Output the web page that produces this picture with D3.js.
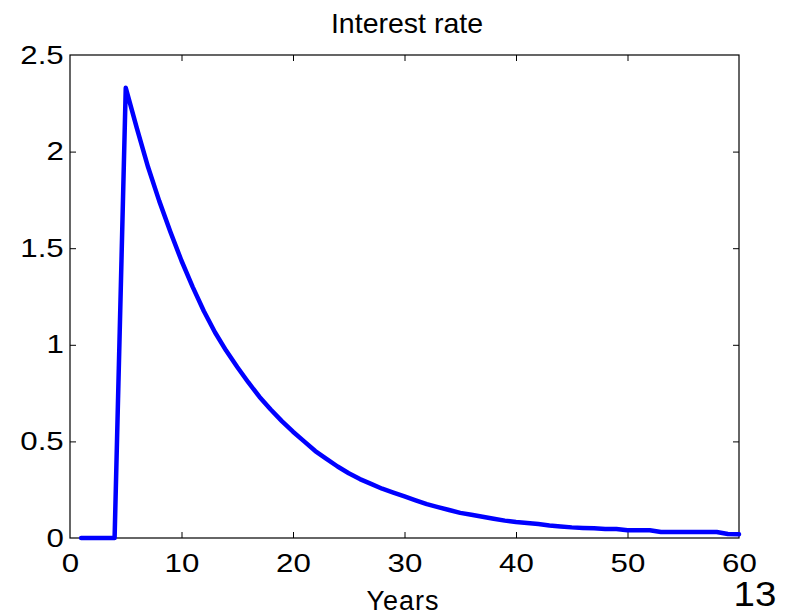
<!DOCTYPE html>
<html>
<head>
<meta charset="utf-8">
<script src="https://cdn.jsdelivr.net/npm/d3@7"></script>
<style>
  html, body { margin: 0; padding: 0; background: #fff; }
  svg { display: block; }
  text { font-family: "Liberation Sans", Arial, sans-serif; fill: #000; }
</style>
</head>
<body>
<svg id="chart" width="787" height="616"></svg>
<script>
// Impulse response of the interest rate, one value per year
const years = d3.range(1, 61);
const rate = [
  0, 0, 0, 0, 2.33, 2.12, 1.92, 1.745, 1.585, 1.435,
  1.30, 1.175, 1.065, 0.97, 0.885, 0.805, 0.73, 0.665, 0.605, 0.55,
  0.50, 0.45, 0.41, 0.37, 0.335, 0.305, 0.28, 0.255, 0.235, 0.215,
  0.195, 0.175, 0.16, 0.145, 0.13, 0.12, 0.11, 0.10, 0.09, 0.083,
  0.078, 0.072, 0.065, 0.06, 0.055, 0.052, 0.05, 0.047, 0.047, 0.04,
  0.04, 0.04, 0.031, 0.031, 0.031, 0.031, 0.031, 0.031, 0.021, 0.02
];
const xTicks = [0, 10, 20, 30, 40, 50, 60];
const yTicks = [0, 0.5, 1, 1.5, 2, 2.5];
const yTickLabels = ["0", "0.5", "1", "1.5", "2", "2.5"];

const svg = d3.select("#chart");
const plot = { left: 70, right: 739, top: 55, bottom: 538 };

const x = d3.scaleLinear().domain([0, 60]).range([plot.left, plot.right]);
const y = d3.scaleLinear().domain([0, 2.5]).range([plot.bottom, plot.top]);

const tickLen = 6;
const tickFont = 25;
const tickStretch = 1.25; // wide numerals on the axes

// Bottom axis: ticks point inward, labels below
const axisB = svg.append("g")
  .attr("transform", `translate(0,${plot.bottom})`)
  .call(d3.axisBottom(x).tickValues(xTicks).tickSizeInner(-tickLen).tickSizeOuter(0).tickPadding(16));
// Top axis: mirrored ticks, no labels
const axisT = svg.append("g")
  .attr("transform", `translate(0,${plot.top})`)
  .call(d3.axisTop(x).tickValues(xTicks).tickSizeInner(-tickLen).tickSizeOuter(0).tickFormat(""));
// Left axis
const axisL = svg.append("g")
  .attr("transform", `translate(${plot.left},0)`)
  .call(d3.axisLeft(y).tickValues(yTicks).tickSizeInner(-tickLen).tickSizeOuter(0).tickPadding(5)
    .tickFormat((d, i) => yTickLabels[i]));
// Right axis
const axisR = svg.append("g")
  .attr("transform", `translate(${plot.right},0)`)
  .call(d3.axisRight(y).tickValues(yTicks).tickSizeInner(-tickLen).tickSizeOuter(0).tickFormat(""));

[axisB, axisT, axisL, axisR].forEach(g => {
  g.select(".domain").remove();
  g.selectAll(".tick line").attr("stroke", "#000").attr("stroke-width", 1);
  g.selectAll(".tick text")
    .style("font-family", '"Liberation Sans", Arial, sans-serif')
    .style("font-size", tickFont + "px")
    .attr("transform", `scale(${tickStretch},1)`)
    .attr("fill", "#000");
});

// drop ticks that would sit on the frame corners
[axisB, axisT].forEach(g => g.selectAll(".tick line").filter(d => d === 0 || d === 60).remove());
[axisL, axisR].forEach(g => g.selectAll(".tick line").filter(d => d === 0 || d === 2.5).remove());

// Axes box
svg.append("rect")
  .attr("x", plot.left).attr("y", plot.top)
  .attr("width", plot.right - plot.left).attr("height", plot.bottom - plot.top)
  .attr("fill", "none").attr("stroke", "#000").attr("stroke-width", 1.2);

// Response line
const line = d3.line().x((d, i) => x(years[i])).y(d => y(d));
svg.append("path")
  .datum(rate)
  .attr("d", line)
  .attr("fill", "none")
  .attr("stroke", "#0000ff")
  .attr("stroke-width", 4.5)
  .attr("stroke-linejoin", "round")
  .attr("stroke-linecap", "round");

// Title and labels
svg.append("text")
  .attr("x", 407).attr("y", 33)
  .attr("text-anchor", "middle")
  .style("font-size", "28.5px")
  .text("Interest rate");

svg.append("text")
  .attr("x", 403).attr("y", 610)
  .attr("text-anchor", "middle")
  .style("font-size", "27px")
  .style("letter-spacing", "1px")
  .text("Years");

svg.append("text")
  .attr("transform", "translate(755,606) scale(1.1,1)")
  .attr("text-anchor", "middle")
  .style("font-size", "35px")
  .text("13");
</script>
</body>
</html>
